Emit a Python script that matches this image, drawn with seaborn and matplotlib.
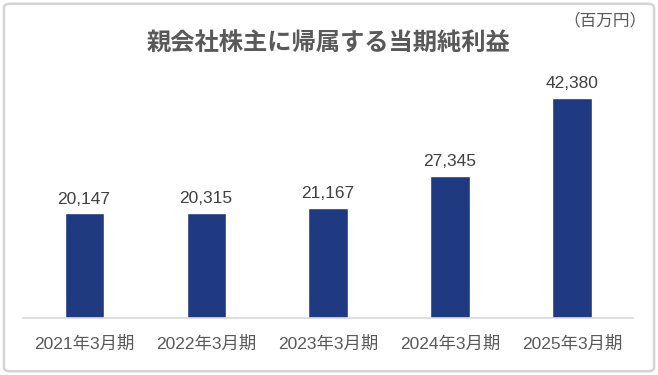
import pandas as pd
import seaborn as sns
import matplotlib.pyplot as plt
from matplotlib.patches import FancyBboxPatch

# データ
periods = ['2021年3月期', '2022年3月期', '2023年3月期', '2024年3月期', '2025年3月期']
net_income = [20147, 20315, 21167, 27345, 42380]

df = pd.DataFrame({'period': periods, 'value': net_income})

sns.set_theme(style='white')
plt.rcParams['font.family'] = ['Liberation Sans', 'Noto Sans CJK JP', 'DejaVu Sans']

fig = plt.figure(figsize=(6.58, 3.75), dpi=100)
ax = fig.add_axes([0.035, 0.152, 0.927, 0.664])

sns.barplot(data=df, x='period', y='value', color='#1f3a80', width=0.32,
            saturation=1, ax=ax)

ax.set_xlim(-0.5, 4.5)
ax.set_ylim(0, 48000)
ax.bar_label(ax.containers[0], labels=[f'{v:,}' for v in net_income],
             padding=5, fontsize=12.5, color='#404040')

# 軸の見た目
ax.set_xlabel('')
ax.set_ylabel('')
ax.set_yticks([])
for s in ['top', 'right', 'left']:
    ax.spines[s].set_visible(False)
ax.spines['bottom'].set_color('#d9d9d9')
ax.spines['bottom'].set_linewidth(1.2)
ax.tick_params(axis='x', length=0, pad=13, labelsize=12.5, labelcolor='#595959')

fig.text(0.5, 0.885, '親会社株主に帰属する当期純利益', ha='center', va='center',
         family=['Noto Sans CJK JP', 'DejaVu Sans'],
         fontsize=17.5, fontweight='bold', color='#595959')
fig.text(0.982, 0.945, '（百万円）', ha='right', va='center',
         family=['Noto Sans CJK JP', 'DejaVu Sans'],
         fontsize=12, color='#595959')

# 外枠
border = FancyBboxPatch((0.006, 0.01), 0.988, 0.98, boxstyle='round,pad=0,rounding_size=0.01',
                        transform=fig.transFigure, fill=False, edgecolor='#d4d4d4',
                        linewidth=1.8)
fig.patches.append(border)

fig.savefig('out.png', dpi=100)
